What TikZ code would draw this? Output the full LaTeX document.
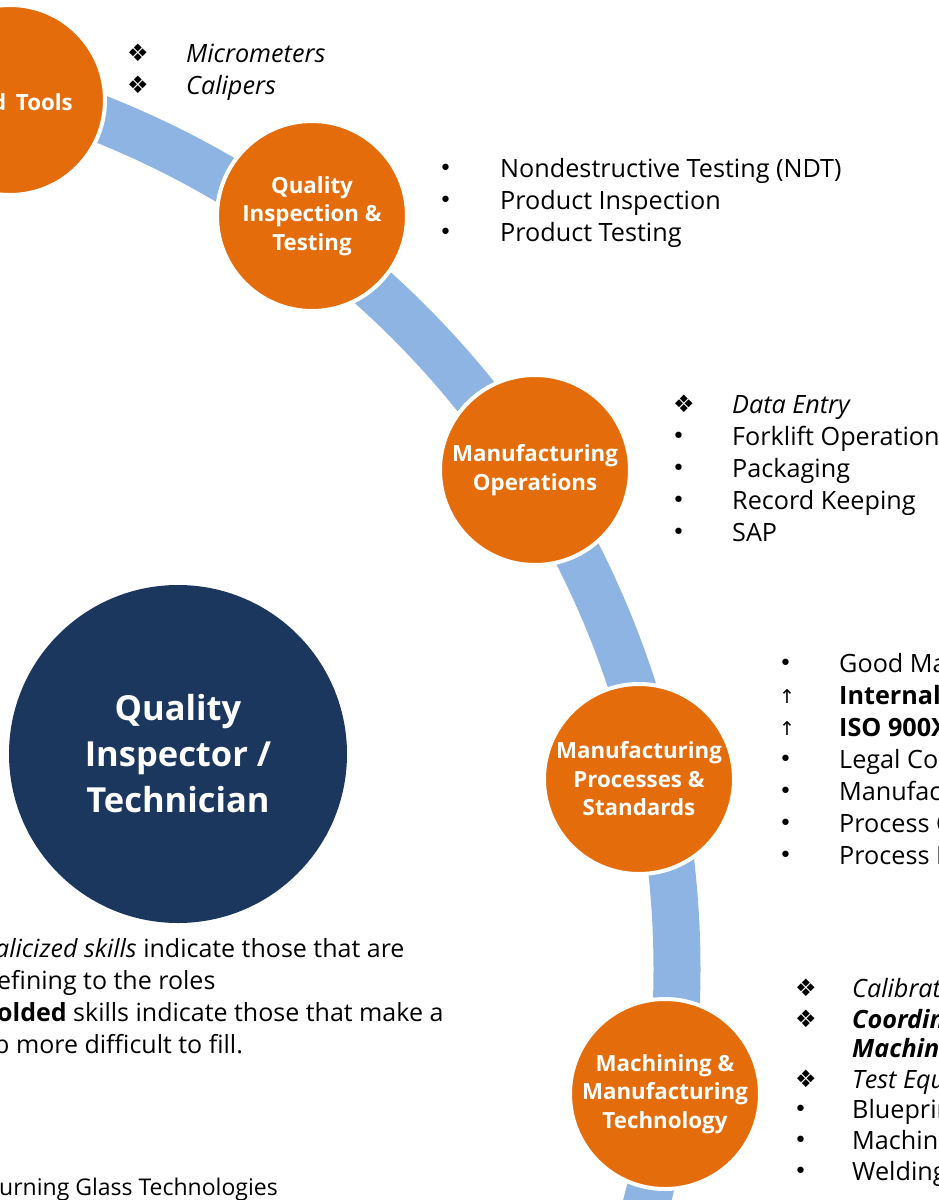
\documentclass[tikz,border=0pt]{standalone}
\usepackage{fontspec}
\setmainfont{Open Sans}
\newfontfamily\symfont{DejaVu Sans}
\definecolor{orng}{HTML}{E46C0A}
\definecolor{navy}{HTML}{1B375E}
\definecolor{bandblue}{HTML}{8EB4E3}
\begin{document}
\begin{tikzpicture}[x=1pt,y=1pt,
  stage/.style={circle, fill=orng, draw=white, line width=4pt, minimum size=190pt,
    inner sep=0pt, text=white, font=\bfseries\fontsize{22.3}{28.5}\selectfont, align=center},
  hub/.style={circle, fill=navy, minimum size=338pt, inner sep=0pt, text=white,
    font=\bfseries\fontsize{34.5}{46}\selectfont, align=center},
  item/.style={anchor=base west, inner sep=0pt, font=\fontsize{25.2}{30}\selectfont},
  dot/.style={anchor=base west, inner sep=0pt, font=\symfont\fontsize{22}{24}\selectfont},
  dia/.style={anchor=base west, inner sep=0pt, font=\symfont\fontsize{24}{26}\selectfont},
  arr/.style={anchor=base west, inner sep=0pt, font=\symfont\fontsize{19}{20}\selectfont},
  note/.style={anchor=base west, inner sep=0pt, font=\fontsize{25}{30}\selectfont},
  band/.style={draw=bandblue, line width=47pt}
]
\useasboundingbox (0,0) rectangle (939,-1200);
\clip (0,0) rectangle (939,-1200);

% band
\coordinate (arcC) at (-238,-969);
\draw[band] (arcC) ++(78:915) arc[start angle=78, end angle=-18, radius=915];

% stage circles
\node[stage] (s1) at (10,-100) {};
\node[anchor=base east, inner sep=0pt, text=white, font=\bfseries\fontsize{22.3}{28.5}\selectfont] (s1t) at (73,-110) {Hand\kern4pt{} Tools};
\node[stage] (s2) at (312,-216) {Quality\\Inspection \&\\Testing};
\node[stage] (s3) at (535,-470) {\rule{0pt}{8pt}Manufacturing\\Operations};
\node[stage] (s4) at (639,-779) {Manufacturing\\Processes \&\\Standards};
\node[stage] (s5) at (665,-1094) {\rule{0pt}{6pt}Machining \&\\Manufacturing\\Technology};

% hub
\node[hub] (hub) at (178,-754) {Quality\\Inspector /\\Technician};

% list 1
\node[dia] (b1a) at (127,-61) {❖};
\node[item] (t1a) at (186,-62) {\itshape Micrometers};
\node[dia] (b1b) at (127,-93) {❖};
\node[item] (t1b) at (186,-94) {\itshape Calipers};

% list 2
\node[dot] (b2a) at (439,-175) {•};
\node[item] (t2a) at (500,-177) {Nondestructive Testing (NDT)};
\node[dot] (b2b) at (439,-207) {•};
\node[item] (t2b) at (500,-209) {Product Inspection};
\node[dot] (b2c) at (439,-239) {•};
\node[item] (t2c) at (500,-241) {Product Testing};

% list 3
\node[dia] (b3a) at (673,-412) {❖};
\node[item] (t3a) at (732,-413) {\itshape Data Entry};
\node[dot] (b3b) at (672,-443) {•};
\node[item] (t3b) at (732,-445) {Forklift Operation};
\node[dot] (b3c) at (672,-475) {•};
\node[item] (t3c) at (732,-477) {Packaging};
\node[dot] (b3d) at (672,-507) {•};
\node[item] (t3d) at (732,-509) {Record Keeping};
\node[dot] (b3e) at (672,-539) {•};
\node[item] (t3e) at (732,-541) {SAP};

% list 4
\node[dot] (b4a) at (779,-670) {•};
\node[item] (t4a) at (839,-672) {Good Manufacturing};
\node[arr] (b4b) at (779,-703) {↑};
\node[item] (t4b) at (839,-704) {\bfseries Internal Auditing};
\node[arr] (b4c) at (779,-735) {↑};
\node[item] (t4c) at (839,-736) {\bfseries ISO 900X};
\node[dot] (b4d) at (779,-766) {•};
\node[item] (t4d) at (839,-768) {Legal Compliance};
\node[dot] (b4e) at (779,-798) {•};
\node[item] (t4e) at (839,-800) {Manufacturing};
\node[dot] (b4f) at (779,-830) {•};
\node[item] (t4f) at (839,-832) {Process Control};
\node[dot] (b4g) at (779,-862) {•};
\node[item] (t4g) at (839,-864) {Process Improvement};

% list 5
\node[dia] (b5a) at (795,-996) {❖};
\node[item] (t5a) at (852,-997) {\itshape Calibration};
\node[dia] (b5b) at (795,-1027) {❖};
\node[item] (t5b) at (852,-1028) {\bfseries\itshape Coordinate};
\node[item] (t5c) at (852,-1057) {\bfseries\itshape Machine};
\node[dia] (b5d) at (795,-1087) {❖};
\node[item] (t5d) at (852,-1088) {\itshape Test Equipment};
\node[dot] (b5e) at (794,-1116) {•};
\node[item] (t5e) at (852,-1118) {Blueprint};
\node[dot] (b5f) at (794,-1147) {•};
\node[item] (t5f) at (852,-1149) {Machining};
\node[dot] (b5g) at (794,-1178) {•};
\node[item] (t5g) at (852,-1180) {Welding};

% notes
\node[note] (n1) at (-5,-957) {\itshape alicized skills\upshape{} indicate those that are};
\node[note] (n2) at (-3,-989) {efining to the roles};
\node[note] (n3) at (-3,-1021) {\bfseries olded\mdseries{} skills indicate those that make a};
\node[note] (n4) at (-6,-1053) {b more difficult to fill.};
\node[note, font=\fontsize{23}{26}\selectfont] (src) at (-1,-1195) {urning Glass Technologies};
\end{tikzpicture}
\end{document}
